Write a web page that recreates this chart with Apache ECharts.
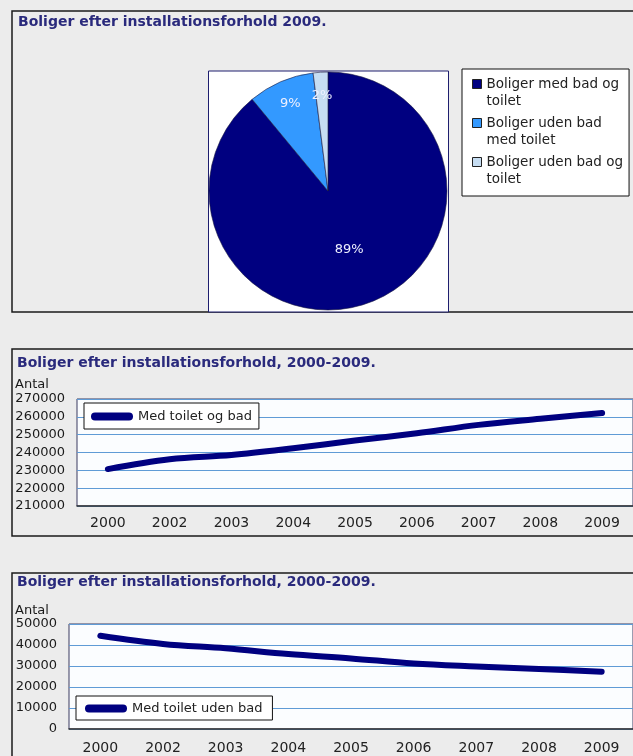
<!DOCTYPE html>
<html>
<head>
<meta charset="utf-8">
<script src="https://cdn.jsdelivr.net/npm/echarts@6/dist/echarts.min.js"></script>
<style>
  html, body { margin: 0; padding: 0; background: #ECECEC; }
  #chart { width: 633px; height: 756px; }
</style>
</head>
<body>
<div id="chart"></div>
<script>
// ---------- data ----------
const pieTitle = 'Boliger efter installationsforhold 2009.';
const pieCategories = ['Boliger med bad og toilet', 'Boliger uden bad med toilet', 'Boliger uden bad og toilet'];
const pieValues = [89, 9, 2];

const lineTitle = 'Boliger efter installationsforhold, 2000-2009.';
const yAxisName = 'Antal';
const years = ['2000', '2002', '2003', '2004', '2005', '2006', '2007', '2008', '2009'];
const seriesNames = ['Med toilet og bad', 'Med toilet uden bad'];
const medToiletOgBad = [230700, 236200, 238600, 242400, 246700, 250800, 255500, 258900, 262100];
const medToiletUdenBad = [44400, 40500, 38400, 35700, 33600, 31200, 29800, 28600, 27300];
const axisRange1 = [210000, 270000, 10000];
const axisRange2 = [0, 50000, 10000];

// ---------- styles ----------
const FONT = '"DejaVu Sans", "Liberation Sans", sans-serif';
const NAVY = '#000080';
const TITLE_COLOR = '#2a2a7c';
const BG = '#ECECEC';
const capsule = 'path://M4,0 L38,0 A4,4 0 0 1 38,8 L4,8 A4,4 0 0 1 4,0 Z';
// square marker sitting at the first text line of a two-line legend entry
const topSquare = 'path://M0,0 M0,4 L9,4 L9,13 L0,13 Z M9,34';
const PIE_CENTER = [328, 191];
const PIE_R = 119;

function wrap(name, maxChars) {
  const words = name.split(' ');
  const lines = [];
  let cur = '';
  words.forEach(w => {
    const next = cur ? cur + ' ' + w : w;
    if (next.length > maxChars && cur) { lines.push(cur); cur = w; }
    else cur = next;
  });
  if (cur) lines.push(cur);
  return lines.join('\n');
}

function xAxesFor(gridIndex, labelMargin) {
  return [
    {
      gridIndex, type: 'category', data: years, boundaryGap: true, position: 'bottom',
      axisLine: { lineStyle: { color: '#333', width: 1.5 } },
      axisTick: { inside: true, length: 4, interval: 0, lineStyle: { color: '#333' } },
      axisLabel: { interval: 0, fontSize: 14, color: '#222', fontFamily: FONT, margin: labelMargin },
      splitLine: { show: false }
    },
    {
      gridIndex, type: 'category', data: years, boundaryGap: true, position: 'bottom',
      axisLine: { show: false },
      axisTick: { inside: true, length: 4, interval: 0, alignWithLabel: true, lineStyle: { color: '#333' } },
      axisLabel: { show: false },
      splitLine: { show: false }
    }
  ];
}

function yAxisFor(gridIndex, range) {
  return {
    gridIndex, type: 'value', min: range[0], max: range[1], interval: range[2],
    axisLine: { show: false }, axisTick: { show: false },
    axisLabel: { fontSize: 13, color: '#1a1a1a', fontFamily: FONT, margin: 12, formatter: v => String(v) },
    splitLine: { lineStyle: { color: '#5f9bd6', width: 1 } }
  };
}

function lineLegend(name, left, top, padding) {
  return {
    data: [name], left, top, orient: 'horizontal',
    backgroundColor: '#ffffff', borderColor: '#111', borderWidth: 1,
    padding, itemWidth: 42, itemHeight: 8, icon: capsule,
    selectedMode: false,
    textStyle: { fontSize: 13, color: '#222', fontFamily: FONT }
  };
}

const pieTotal = pieValues.reduce((a, b) => a + b, 0);

const chart = echarts.init(document.getElementById('chart'), null, { renderer: 'canvas' });

const titleStyle = { fontSize: 14, fontWeight: 'bold', color: TITLE_COLOR, fontFamily: FONT };

const option = {
  backgroundColor: BG,
  animation: false,
  textStyle: { fontFamily: FONT },
  title: [
    { text: pieTitle, left: 18, top: 15, padding: 0, textStyle: titleStyle },
    { text: lineTitle, left: 17, top: 356, padding: 0, textStyle: titleStyle },
    { text: lineTitle, left: 17, top: 575, padding: 0, textStyle: titleStyle }
  ],
  graphic: [
    { type: 'rect', z: -10, shape: { x: 12, y: 11, width: 640, height: 301 }, style: { fill: BG, stroke: '#1a1a1a', lineWidth: 1.5 } },
    { type: 'rect', z: -10, shape: { x: 12, y: 349, width: 640, height: 187 }, style: { fill: BG, stroke: '#1a1a1a', lineWidth: 1.5 } },
    { type: 'rect', z: -10, shape: { x: 12, y: 573, width: 640, height: 220 }, style: { fill: BG, stroke: '#1a1a1a', lineWidth: 1.5 } },
    { type: 'rect', z: -9, shape: { x: 208.5, y: 71, width: 240, height: 241 }, style: { fill: '#ffffff', stroke: '#1e1e6e', lineWidth: 1 } },
    { type: 'text', z: 5, x: 15, y: 385, style: { text: yAxisName, fill: '#1a1a1a', font: '13px ' + FONT, verticalAlign: 'middle' } },
    { type: 'text', z: 5, x: 15, y: 611, style: { text: yAxisName, fill: '#1a1a1a', font: '13px ' + FONT, verticalAlign: 'middle' } }
  ],
  legend: [
    {
      data: pieCategories, orient: 'vertical', left: 462, top: 69,
      backgroundColor: '#ffffff', borderColor: '#111', borderWidth: 1,
      padding: [6, 6, 8, 10], itemGap: 4, itemWidth: 9, itemHeight: 34, icon: topSquare,
      selectedMode: false,
      itemStyle: { borderColor: '#222', borderWidth: 1 },
      formatter: name => wrap(name, 19),
      textStyle: { fontSize: 13.5, lineHeight: 17, color: '#222', fontFamily: FONT }
    },
    lineLegend(seriesNames[0], 84, 403, [7, 7, 6, 7]),
    lineLegend(seriesNames[1], 76, 696, [6, 10, 5, 9])
  ],
  grid: [
    { left: 77, top: 399, width: 567, height: 107, show: true, backgroundColor: '#fbfdff', borderColor: '#3a3a60', borderWidth: 1, containLabel: false },
    { left: 69, top: 624, width: 576, height: 105, show: true, backgroundColor: '#fbfdff', borderColor: '#3a3a60', borderWidth: 1, containLabel: false }
  ],
  xAxis: [...xAxesFor(0, 10), ...xAxesFor(1, 12)],
  yAxis: [yAxisFor(0, axisRange1), yAxisFor(1, axisRange2)],
  series: [
    {
      type: 'pie', name: pieTitle, center: PIE_CENTER, radius: PIE_R,
      startAngle: 90, clockwise: true,
      color: ['#000080', '#3399ff', '#c6ddf2'],
      itemStyle: { borderColor: '#1a1a40', borderWidth: 0.6 },
      label: { show: true, position: 'inside', formatter: '{c}%', color: '#eef0ff', fontSize: 13, fontFamily: FONT },
      labelLine: { show: false },
      labelLayout: function (params) {
        if (pieValues[params.dataIndex] / pieTotal > 0.2) return {};
        const r = params.labelRect;
        const lx = r.x + r.width / 2, ly = r.y + r.height / 2;
        const dx = lx - PIE_CENTER[0], dy = ly - PIE_CENTER[1];
        const k = 0.8 * PIE_R / Math.hypot(dx, dy);
        return { x: PIE_CENTER[0] + dx * k, y: PIE_CENTER[1] + dy * k, align: 'center', verticalAlign: 'middle' };
      },
      emphasis: { disabled: true },
      data: pieCategories.map((n, i) => ({ name: n, value: pieValues[i] }))
    },
    {
      type: 'line', name: seriesNames[0], xAxisIndex: 0, yAxisIndex: 0,
      data: medToiletOgBad, smooth: 0.35, showSymbol: false, symbol: 'none',
      color: NAVY, lineStyle: { width: 6, color: NAVY, cap: 'round', join: 'round' }
    },
    {
      type: 'line', name: seriesNames[1], xAxisIndex: 2, yAxisIndex: 1,
      data: medToiletUdenBad, smooth: 0.35, showSymbol: false, symbol: 'none',
      color: NAVY, lineStyle: { width: 6, color: NAVY, cap: 'round', join: 'round' }
    }
  ]
};

chart.setOption(option);
</script>
</body>
</html>
